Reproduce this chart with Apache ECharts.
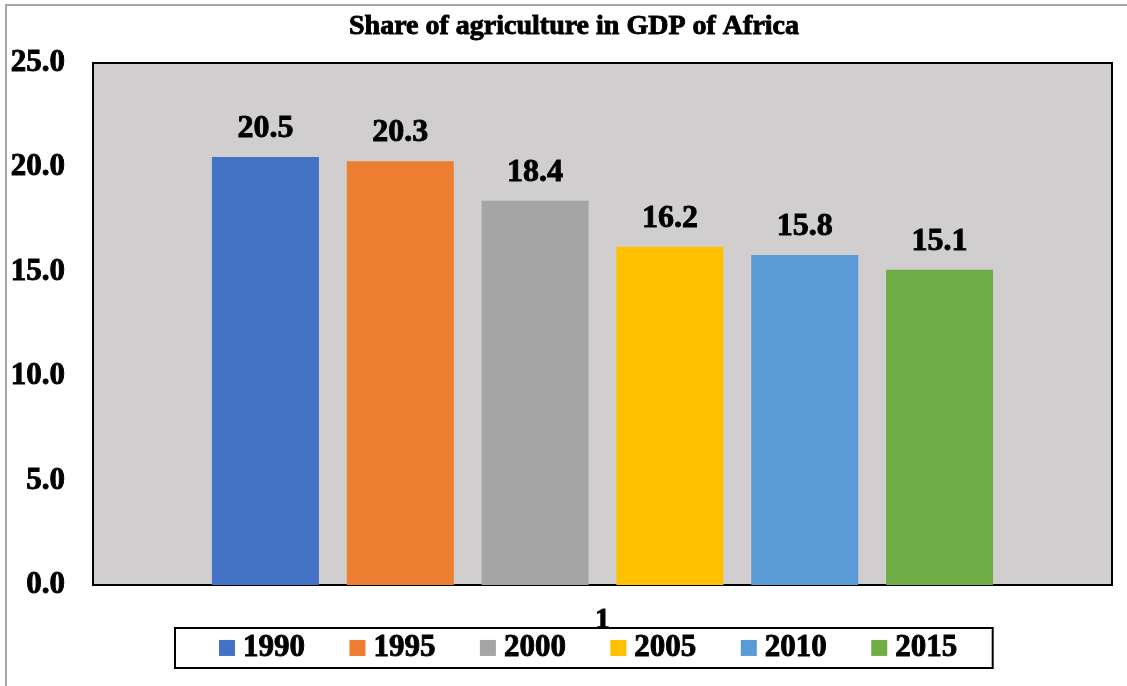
<!DOCTYPE html>
<html>
<head>
<meta charset="utf-8">
<title>Share of agriculture in GDP of Africa</title>
<script src="https://cdn.jsdelivr.net/npm/echarts@6/dist/echarts.min.js"></script>
<style>
  html, body { margin: 0; padding: 0; background: #ffffff; }
  #chart { width: 1127px; height: 686px; }
</style>
</head>
<body>
<div id="chart"></div>
<script>
// Share of agriculture in Africa's GDP (%), one bar per year
const categories = ['1'];
const years = ['1990', '1995', '2000', '2005', '2010', '2015'];
const shares = [20.5, 20.3, 18.4, 16.2, 15.8, 15.1];
const yTicks = [0, 5, 10, 15, 20, 25];

const colors = ['#4472c4', '#ed7d31', '#a5a5a5', '#ffc000', '#5b9bd5', '#70ad47'];
const serif = "'Liberation Serif', 'Times New Roman', serif";

// heavy black serif text used throughout
const heavy = size => ({
  fontFamily: serif, fontWeight: 'bold', fontSize: size, color: '#000',
  textBorderColor: '#000', textBorderWidth: 0.9
});

const chart = echarts.init(document.getElementById('chart'), null, { renderer: 'canvas' });

const series = years.map((y, i) => ({
  name: y,
  type: 'bar',
  data: [shares[i]],
  barWidth: 107,
  barGap: '26%',
  itemStyle: { color: colors[i] },
  label: Object.assign({
    show: true,
    position: 'top',
    distance: 12,
    formatter: p => p.value.toFixed(1)
  }, heavy(32))
}));

chart.setOption({
  animation: false,
  backgroundColor: '#ffffff',
  graphic: [{
    type: 'rect',
    shape: { x: 6, y: 5, width: 1300, height: 900 },
    style: { fill: null, stroke: '#a6a6a6', lineWidth: 2 },
    silent: true,
    z: -1
  }],
  title: {
    text: 'Share of agriculture in GDP of Africa',
    left: 349,
    top: 13,
    padding: 0,
    textStyle: heavy(28)
  },
  legend: {
    data: years,
    left: 175,
    top: 628,
    padding: [4, 35, 4, 44],
    itemWidth: 16,
    itemHeight: 16,
    itemGap: 44,
    icon: 'rect',
    borderColor: '#000',
    borderWidth: 2,
    backgroundColor: '#ffffff',
    textStyle: Object.assign(heavy(31), { padding: [0, 0, 0, 3], lineHeight: 31 })
  },
  grid: {
    left: 93, right: 15, top: 63, bottom: 101,
    show: true,
    backgroundColor: '#d0cece',
    borderColor: '#000',
    borderWidth: 2
  },
  xAxis: {
    type: 'category',
    data: categories,
    axisLine: { show: true, lineStyle: { color: '#000', width: 2 } },
    axisTick: { show: false },
    axisLabel: Object.assign({ margin: 20 }, heavy(30))
  },
  yAxis: {
    type: 'value',
    min: yTicks[0],
    max: yTicks[yTicks.length - 1],
    interval: 5,
    axisLine: { show: false },
    axisTick: { show: false },
    splitLine: { show: false },
    axisLabel: Object.assign({
      margin: 28,
      verticalAlign: 'middle',
      formatter: v => v.toFixed(1)
    }, heavy(31))
  },
  series: series
});
</script>
</body>
</html>
